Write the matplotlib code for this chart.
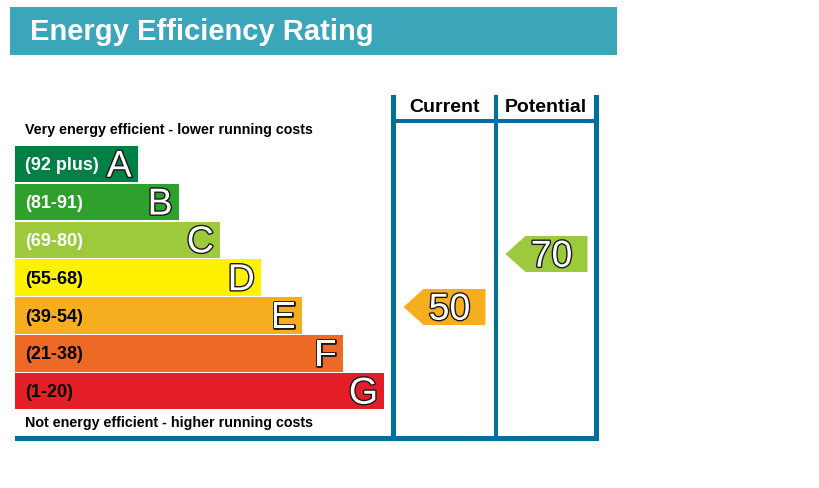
import matplotlib
matplotlib.use('Agg')
import matplotlib.pyplot as plt
import matplotlib.patheffects as pe
from matplotlib.patches import Rectangle, Polygon

# chart data
title = 'Energy Efficiency Rating'
top_note = 'Very energy efficient - lower running costs'
bottom_note = 'Not energy efficient - higher running costs'
bands = ['A', 'B', 'C', 'D', 'E', 'F', 'G']
ranges = ['(92 plus)', '(81-91)', '(69-80)', '(55-68)', '(39-54)', '(21-38)', '(1-20)']
columns = ['Current', 'Potential']
ratings = [50, 70]

band_colors = ['#008045', '#2ea12d', '#9dca3c', '#fff200', '#f6ae1f', '#ec6a25', '#e31e26']
label_colors = ['white', 'white', 'white', 'black', 'black', 'black', 'black']
frame = '#00709b'

plt.rcParams['font.family'] = ['Liberation Sans', 'DejaVu Sans']

fig = plt.figure(figsize=(8.19, 4.89), dpi=100)
ax = fig.add_axes([0, 0, 1, 1])
ax.set_xlim(0, 819)
ax.set_ylim(489, 0)
ax.axis('off')

outline = [pe.withStroke(linewidth=2, foreground='#1a1a1a')]

def band_of(v):
    lows = [92, 81, 69, 55, 39, 21, 1]
    for i, lo in enumerate(lows):
        if v >= lo:
            return i
    return len(lows) - 1

# title bar
ax.add_patch(Rectangle((10, 8), 607, 48, color='#3ba6b9', lw=0))
ax.text(30, 40.5, title, color='white', fontsize=21, fontweight='bold', va='baseline', ha='left')

# notes
ax.text(25, 130, top_note, fontsize=10.3, fontweight='bold', va='center')
ax.text(25, 422.5, bottom_note, fontsize=10.3, fontweight='bold', va='center')

# bands
for i, (b, r) in enumerate(zip(bands, ranges)):
    top = 147 + i * 37.83
    right = 137.7 + i * 41.05
    ax.add_patch(Rectangle((15, top), right - 15, 36.4, color=band_colors[i], lw=0))
    yc = top + 18.2
    ax.text(25, yc + 0.5, r, color=label_colors[i], fontsize=13, fontweight='bold', va='center')
    ax.text(right - 6, yc + 12.5, b, color='white', fontsize=27, va='baseline', ha='right',
            path_effects=outline)

# frame
for x0, x1 in [(391, 395.5), (493.5, 497.5), (593.5, 598.5)]:
    ax.add_patch(Rectangle((x0, 96), x1 - x0, 345.5, color=frame, lw=0))
ax.add_patch(Rectangle((391, 119.5), 207.5, 4.5, color=frame, lw=0))
ax.add_patch(Rectangle((15, 437), 583.5, 4.5, color=frame, lw=0))

col_left = [395.5, 497.5]
col_right = [493.5, 593.5]
for name, lft, rgt, v in zip(columns, col_left, col_right, ratings):
    ax.text((lft + rgt) / 2, 107, name, fontsize=14, fontweight='bold', ha='center', va='center')
    yc = 440.5 - 2.65 * v
    tip = lft + 8
    flat = tip + 20
    end = flat + 62
    ax.add_patch(Polygon([(tip, yc), (flat, yc - 18), (end, yc - 18), (end, yc + 18), (flat, yc + 18)],
                         closed=True, color=band_colors[band_of(v)], lw=0))
    ax.text((flat + end) / 2 - 5, yc + 12.7, str(v), color='white', fontsize=27, ha='center',
            va='baseline', path_effects=outline)

fig.savefig('out.png', dpi=100)
